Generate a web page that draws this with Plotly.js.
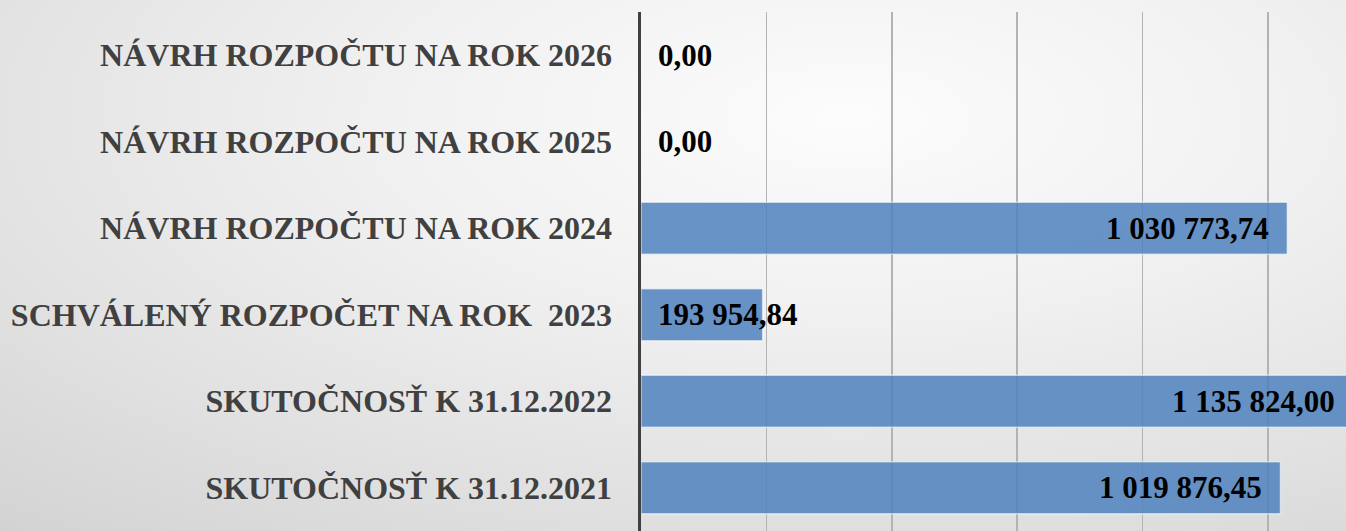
<!DOCTYPE html>
<html>
<head>
<meta charset="utf-8">
<script src="https://cdn.plot.ly/plotly-3.0.1.min.js"></script>
<style>
html, body { margin:0; padding:0; width:1346px; height:531px; overflow:hidden; }
body { background: radial-gradient(ellipse 120% 130% at 63% 22%, #fcfcfc 0%, #f0f0f0 30%, #e2e2e2 55%, #d4d4d4 78%, #c2c2c2 100%); }
#chart { width:1346px; height:531px; }
</style>
</head>
<body>
<div id="chart"></div>
<script>
// Data (bottom to top)
const categories = [
  "SKUTOČNOSŤ K 31.12.2021",
  "SKUTOČNOSŤ K 31.12.2022",
  "SCHVÁLENÝ ROZPOČET NA ROK\u00a0 2023",
  "NÁVRH ROZPOČTU NA ROK 2024",
  "NÁVRH ROZPOČTU NA ROK 2025",
  "NÁVRH ROZPOČTU NA ROK 2026"
];
const values = [1019876.45, 1135824.00, 193954.84, 1030773.74, 0, 0];
const xTicks = [0, 200000, 400000, 600000, 800000, 1000000];
const xMax = 1124400;

function fmt(v) {
  const parts = v.toFixed(2).split(".");
  const intPart = parts[0].replace(/\B(?=(\d{3})+(?!\d))/g, " ");
  return intPart + "," + parts[1];
}

const serif = "Liberation Serif, Times New Roman, serif";

const annotations = categories.map((c, i) => {
  const v = values[i];
  const small = v < 400000;
  return {
    xref: "paper", yref: "y",
    x: small ? 0 : v / xMax,
    y: c,
    xanchor: small ? "left" : "right",
    yanchor: "middle",
    xshift: small ? 15 : -16,
    text: fmt(v),
    showarrow: false,
    font: { family: serif, size: 31, color: "#000000", weight: 700 }
  };
});

const trace = {
  type: "bar",
  orientation: "h",
  y: categories,
  x: values,
  marker: {
    color: "rgba(79,129,189,0.85)",
    line: { color: "rgba(255,255,255,0.55)", width: 1.5 }
  },
  hoverinfo: "none",
  cliponaxis: true
};

const layout = {
  width: 1346, height: 531,
  margin: { l: 641, r: 0, t: 12, b: 0, pad: 0 },
  paper_bgcolor: "rgba(0,0,0,0)",
  plot_bgcolor: "rgba(0,0,0,0)",
  bargap: 0.4,
  showlegend: false,
  xaxis: {
    range: [0, xMax],
    tickvals: xTicks,
    showticklabels: false,
    showgrid: true,
    gridcolor: "#b3b3b3",
    gridwidth: 1.5,
    zeroline: false,
    showline: false,
    ticks: ""
  },
  yaxis: {
    type: "category",
    categoryorder: "array",
    categoryarray: categories,
    showgrid: false,
    zeroline: false,
    showline: true,
    linecolor: "#404040",
    linewidth: 3.5,
    ticks: "",
    ticklabelstandoff: 19,
    tickfont: { family: serif, size: 32, color: "#404040", weight: 700 }
  },
  annotations: annotations
};

Plotly.newPlot("chart", [trace], layout, { staticPlot: true, displayModeBar: false });
</script>
</body>
</html>
